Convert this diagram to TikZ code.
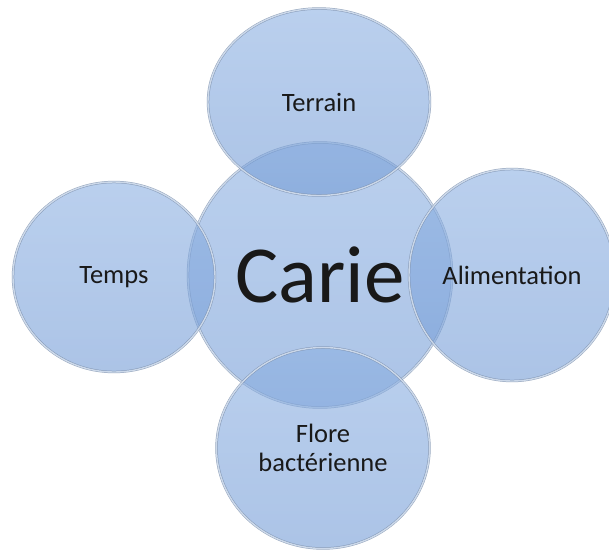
\documentclass[tikz,border=0pt]{standalone}
\usepackage{fontspec}
\setmainfont{Carlito}
\usetikzlibrary{shapes.geometric}

\definecolor{bulleHaut}{RGB}{140,176,226}
\definecolor{bulleBas}{RGB}{116,156,214}
\definecolor{bulleBord}{RGB}{222,233,247}
\definecolor{bulleTrait}{RGB}{120,140,170}

\tikzset{
  bulle/.style={ellipse, draw=bulleTrait, line width=0.5pt,
    double=bulleBord, double distance=1.4pt,
    top color=bulleHaut, bottom color=bulleBas, fill opacity=0.6,
    draw opacity=0.8, text opacity=1, text=black!90,
    inner sep=0pt, align=center, font=\fontsize{26.5}{29}\selectfont}
}

\begin{document}
\begin{tikzpicture}[x=1pt, y=-1pt]
		\useasboundingbox (0,0) rectangle (609,549);
		%Noeud central
		\node[bulle, minimum width=264pt, minimum height=265pt,
		  font=\fontsize{81}{84}\selectfont] (C0) at (320,275) {Carie};
		%Noeuds autour
		\node[bulle, minimum width=222pt, minimum height=187pt] (C1) at (319,102) {Terrain};
		\node[bulle, minimum width=202pt, minimum height=190pt] (C2) at (114,277) {Temps};
		\node[bulle, minimum width=206pt, minimum height=212pt] (C3) at (512,275) {Alimentation};
		\node[bulle, minimum width=213pt, minimum height=201pt] (C4) at (323,448) {Flore\\bactérienne};
	\end{tikzpicture}
\end{document}
